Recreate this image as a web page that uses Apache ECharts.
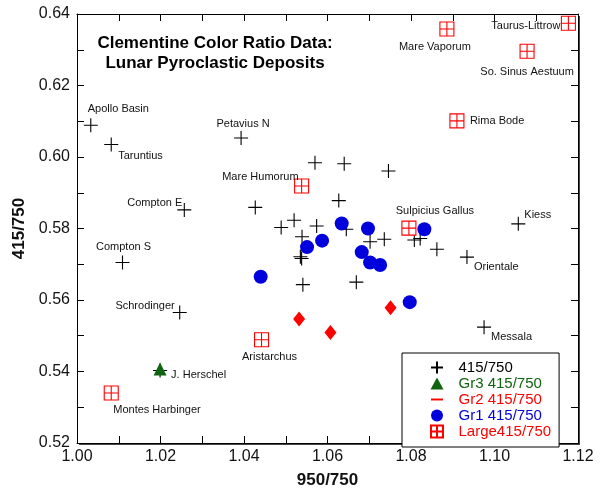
<!DOCTYPE html>
<html>
<head>
<meta charset="utf-8">
<script src="https://cdn.jsdelivr.net/npm/echarts@6/dist/echarts.min.js"></script>
<style>
  html, body { margin: 0; padding: 0; background: #fff; }
  #chart { width: 602px; height: 489px; }
</style>
</head>
<body>
<div id="chart"></div>
<script>
// 415/750 crosses
const crossX = [1.0033, 1.0082, 1.0393, 1.0257, 1.0109, 1.0246, 1.0975, 1.0934, 1.1057,
  1.0570, 1.0640, 1.0746, 1.0627, 1.0427, 1.0520, 1.0489, 1.0574, 1.0539, 1.0535, 1.0538,
  1.0541, 1.0669, 1.0702, 1.0736, 1.0645, 1.0808, 1.0822, 1.0862, 1.0199];
const crossY = [0.6089, 0.6035, 0.6053, 0.5852, 0.5705, 0.5565, 0.5524, 0.5720, 0.5813,
  0.5984, 0.5981, 0.5961, 0.5878, 0.5859, 0.5823, 0.5803, 0.5807, 0.5777, 0.5721, 0.5716,
  0.5643, 0.5650, 0.5763, 0.5770, 0.5798, 0.5768, 0.5772, 0.5742, 0.5403];
const crossNames = ["Apollo Basin", "Taruntius", "Petavius N", "Compton E", "Compton S",
  "Schrodinger", "Messala", "Orientale", "Kiess"];

// Gr1 / Gr2 / Gr3
const gr1X = [1.0440, 1.0551, 1.0587, 1.0634, 1.0697, 1.0682, 1.0702, 1.0726, 1.0832, 1.0797];
const gr1Y = [0.5665, 0.5748, 0.5766, 0.5814, 0.5800, 0.5734, 0.5705, 0.5698, 0.5798, 0.5594];
const gr2X = [1.0532, 1.0607, 1.0751];
const gr2Y = [0.5547, 0.5509, 0.5578];
const gr3X = [1.0199];
const gr3Y = [0.5407];
const gr3Names = ["J. Herschel"];

// Large deposits
const largeNames = ["Mare Vaporum", "Taurus-Littrow", "So. Sinus Aestuum", "Rima Bode",
  "Mare Humorum", "Sulpicius Gallus", "Aristarchus", "Montes Harbinger"];
const largeX = [1.0886, 1.1177, 1.1078, 1.0910, 1.0538, 1.0795, 1.0442, 1.0082];
const largeY = [0.6358, 0.6374, 0.6296, 0.6101, 0.5919, 0.5801, 0.5489, 0.5340];

const xTicks = [1.00, 1.02, 1.04, 1.06, 1.08, 1.10, 1.12];
const yTicks = [0.52, 0.54, 0.56, 0.58, 0.60, 0.62, 0.64];

// where each site name sits next to its marker: [align, dx, dy]
const labelPlace = {
  "Apollo Basin": ["left", -3, -16],
  "Taruntius": ["left", 7, 11],
  "Petavius N": ["center", 2, -14],
  "Compton E": ["right", -2, -7],
  "Compton S": ["center", 1, -15],
  "Schrodinger": ["right", -5, -7],
  "Messala": ["left", 7, 10],
  "Orientale": ["left", 7, 10],
  "Kiess": ["left", 6, -9],
  "Mare Vaporum": ["center", -12, 18],
  "Taurus-Littrow": ["right", -8, 3],
  "So. Sinus Aestuum": ["center", 0, 21],
  "Rima Bode": ["left", 13, 0],
  "Mare Humorum": ["right", -3, -9],
  "Sulpicius Gallus": ["center", 26, -17],
  "Aristarchus": ["center", 8, 17],
  "J. Herschel": ["left", 11, 6],
  "Montes Harbinger": ["left", 2, 17]
};

const FONT = "'Liberation Sans', Arial, Helvetica, sans-serif";

function points(xs, ys, names) {
  return xs.map((x, i) => {
    const name = (names && names[i]) || "";
    const d = { value: [x, ys[i]], name: name };
    const p = labelPlace[name];
    if (p) {
      d.label = {
        show: true, position: "inside", align: p[0], verticalAlign: "middle",
        offset: [p[1], p[2]], color: "#111", fontSize: 11, fontFamily: FONT,
        textBorderWidth: 0, formatter: "{b}"
      };
    }
    return d;
  });
}

const CROSS = "path://M0,5H10M5,0V10";
const BOX = "path://M0,0H10V10H0ZM5,0V10M0,5H10";
const DASH = "path://M0,0M10,10M0,4.2H10V5.8H0Z";

const RED = "#ff0000";
const BLUE = "#0000dd";
const GREEN = "#0f640f";

function valAxis(pos, ticks, showLabel, extra) {
  return Object.assign({
    type: "value",
    position: pos,
    min: ticks[0],
    max: ticks[ticks.length - 1],
    interval: 0.02,
    axisLine: { show: true, onZero: false, lineStyle: { color: "#000", width: 1 } },
    axisTick: { show: true, inside: true, length: 7, lineStyle: { color: "#000" } },
    minorTick: { show: true, splitNumber: 2, length: 7, lineStyle: { color: "#000" } },
    splitLine: { show: false },
    axisLabel: {
      show: showLabel, color: "#111", fontSize: 16, fontFamily: FONT,
      formatter: v => v.toFixed(2)
    }
  }, extra || {});
}

const chart = echarts.init(document.getElementById("chart"));
chart.setOption({
  animation: false,
  backgroundColor: "#fff",
  grid: {
    left: 77, right: 24, top: 14, bottom: 46,
    outerBoundsMode: "none",
    show: true, borderWidth: 0, backgroundColor: "#fff",
    shadowColor: "#444", shadowOffsetX: 2, shadowOffsetY: 2, shadowBlur: 0
  },
  xAxis: [
    valAxis("bottom", xTicks, true, {
      name: "950/750", nameLocation: "middle", nameGap: 29,
      nameTextStyle: { fontSize: 17, fontWeight: "bold", color: "#111", fontFamily: FONT },
      axisLabel: { show: true, color: "#111", fontSize: 16, fontFamily: FONT, margin: 6,
        formatter: v => v.toFixed(2) }
    }),
    valAxis("top", xTicks, false)
  ],
  yAxis: [
    valAxis("left", yTicks, true, {
      name: "415/750", nameLocation: "middle", nameGap: 43, nameRotate: 90,
      nameTextStyle: { fontSize: 17, fontWeight: "bold", color: "#111", fontFamily: FONT },
      axisLabel: { show: true, color: "#111", fontSize: 16, fontFamily: FONT, margin: 7,
        formatter: v => v.toFixed(2) }
    }),
    valAxis("right", yTicks, false)
  ],
  legend: {
    orient: "vertical",
    left: 402, top: 353,
    padding: [7, 8, 8, 28],
    itemWidth: 13, itemHeight: 12, itemGap: 1,
    backgroundColor: "#fff",
    borderColor: "#000", borderWidth: 1,
    textStyle: { fontSize: 15, lineHeight: 13, fontFamily: FONT, padding: [0, 0, 0, 10] },
    selectedMode: false,
    data: [
      { name: "415/750", icon: CROSS, textStyle: { color: "#000" } },
      { name: "Gr3 415/750", icon: "triangle", textStyle: { color: GREEN } },
      { name: "Gr2 415/750", icon: DASH, textStyle: { color: RED } },
      { name: "Gr1 415/750", icon: "circle", textStyle: { color: BLUE } },
      { name: "Large415/750", icon: BOX, textStyle: { color: RED } }
    ]
  },
  graphic: [{
    type: "text",
    x: 215, y: 53,
    style: {
      text: "Clementine Color Ratio Data:\nLunar Pyroclastic Deposits",
      align: "center", verticalAlign: "middle", lineHeight: 20,
      font: "bold 17px " + FONT, fill: "#000"
    }
  }],
  series: [
    {
      name: "415/750", type: "scatter", z: 2,
      symbol: CROSS, symbolSize: 14,
      itemStyle: { color: "rgba(0,0,0,0)", borderColor: "#000", borderWidth: 1.1, opacity: 1 },
      data: points(crossX, crossY, crossNames)
    },
    {
      name: "Large415/750", type: "scatter", z: 3,
      symbol: BOX, symbolSize: 14,
      itemStyle: { color: "#fff", borderColor: RED, borderWidth: 1.1, opacity: 1 },
      data: points(largeX, largeY, largeNames)
    },
    {
      name: "Gr1 415/750", type: "scatter", z: 4,
      symbol: "circle", symbolSize: 14,
      itemStyle: { color: BLUE, opacity: 1 },
      data: points(gr1X, gr1Y)
    },
    {
      name: "Gr2 415/750", type: "scatter", z: 5,
      symbol: "diamond", symbolSize: [12, 15],
      itemStyle: { color: RED, opacity: 1 },
      data: points(gr2X, gr2Y)
    },
    {
      name: "Gr3 415/750", type: "scatter", z: 6,
      symbol: "triangle", symbolSize: 13,
      itemStyle: { color: GREEN, opacity: 1 },
      data: points(gr3X, gr3Y, gr3Names)
    }
  ]
});
</script>
</body>
</html>
